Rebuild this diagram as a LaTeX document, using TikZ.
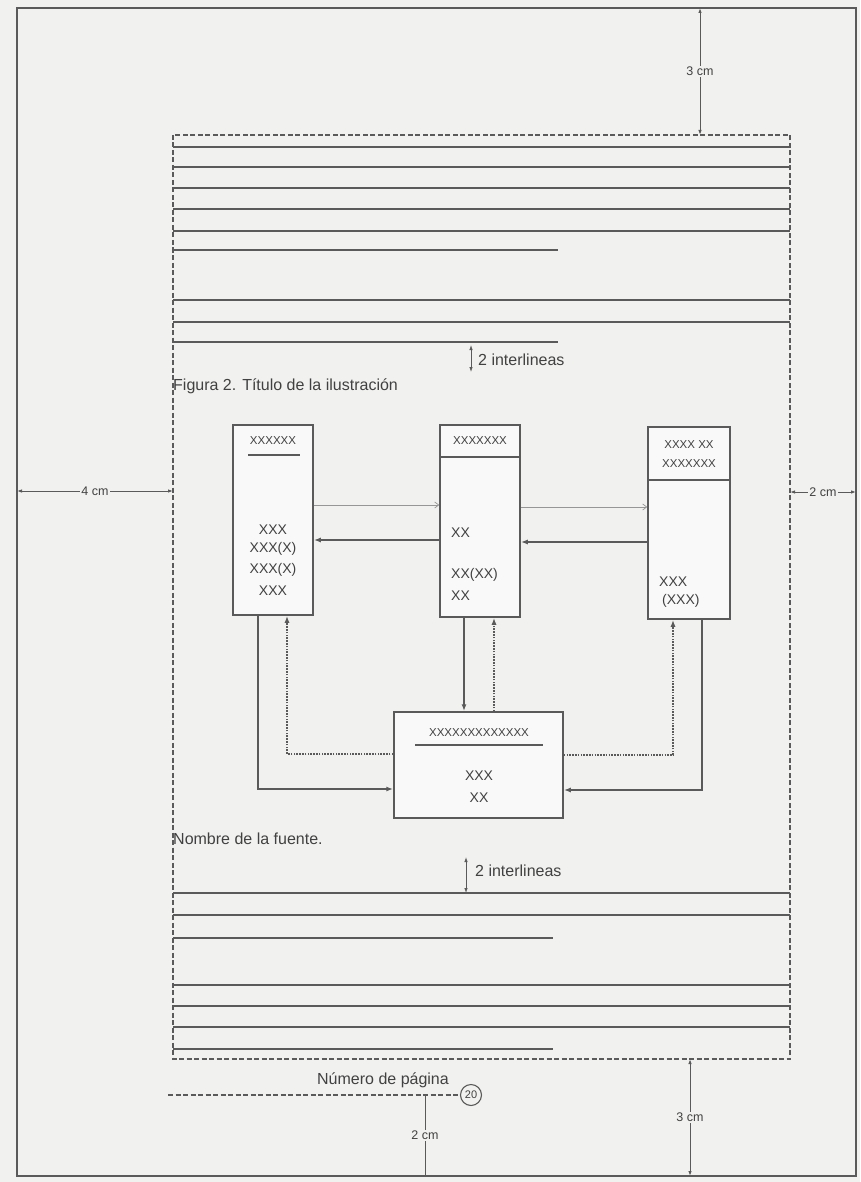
\documentclass[tikz,border=0pt]{standalone}
\usepackage{fontspec}
\setmainfont{Liberation Sans}
\usetikzlibrary{arrows.meta}
\definecolor{bg}{RGB}{241,241,239}
\definecolor{ink}{RGB}{90,90,90}
\definecolor{inkl}{RGB}{150,150,150}
\definecolor{txt}{RGB}{65,65,65}
\begin{document}
\begin{tikzpicture}[x=1pt,y=-1pt,
  txtline/.style={draw=ink,line width=1.1pt},
  border/.style={draw=ink,line width=1.1pt,dash pattern=on 5pt off 2.5pt},
  pageedge/.style={draw=ink,line width=1.6pt},
  boxnode/.style={draw=ink,line width=1.5pt,fill=white!60!bg,inner sep=0pt},
  solidarr/.style={draw=ink,line width=1.4pt,-{Latex[length=7pt,width=5pt]}},
  dotarr/.style={draw=ink,line width=1.4pt,dash pattern=on 1.6pt off 1.2pt,-{Latex[length=7pt,width=5pt]}},
  thinarr/.style={draw=inkl,line width=0.7pt,-{Straight Barb[length=4pt,width=6pt]}},
  dimline/.style={draw=ink,line width=1pt,{Latex[length=5pt,width=3.5pt]}-{Latex[length=5pt,width=3.5pt]}},
  lbl/.style={font=\fontsize{16}{18}\selectfont,text=txt,inner sep=1pt},
  dimlbl/.style={font=\fontsize{12.5}{14}\selectfont,text=txt,fill=bg,inner sep=1.5pt},
  btxt/.style={font=\fontsize{14}{16}\selectfont,text=txt,inner sep=0pt},
  htxt/.style={font=\fontsize{11.5}{13}\selectfont,text=txt,inner sep=0pt},
]
\useasboundingbox (0,0) rectangle (860,1182);
\fill[bg] (0,0) rectangle (860,1182);

% page edge and text area
\coordinate (pTL) at (17,8);
\coordinate (pBR) at (856,1176);
\draw[pageedge] (pTL) rectangle (pBR);
\coordinate (tTL) at (173,135);
\coordinate (tBR) at (790,1059);
\draw[border] (tTL) rectangle (tBR);

% text lines, top block
\foreach \yy in {147,167,188,209,231,300,322} \draw[txtline] (173,\yy) -- (790,\yy);
\foreach \yy in {250,342} \draw[txtline] (173,\yy) -- (558,\yy);
% text lines, bottom block
\foreach \yy in {893,915,985,1006,1027} \draw[txtline] (173,\yy) -- (790,\yy);
\foreach \yy in {938,1049} \draw[txtline] (173,\yy) -- (553,\yy);

% margin dimensions
\coordinate (m3a) at (700,8);
\coordinate (m3b) at (700,135);
\draw[dimline] (m3a) -- node[dimlbl]{3 cm} (m3b);
\coordinate (m4a) at (17,491);
\coordinate (m4b) at (173,491);
\draw[dimline] (m4a) -- node[dimlbl]{4 cm} (m4b);
\coordinate (m2a) at (790,492);
\coordinate (m2b) at (856,492);
\draw[dimline] (m2a) -- node[dimlbl]{2 cm} (m2b);

% 2 interlineas (top)
\coordinate (i1a) at (471,345);
\coordinate (i1b) at (471,372);
\draw[dimline,line width=0.8pt] (i1a) -- (i1b);
\node[lbl,anchor=west] (i1) at (477,360) {2 interlineas};
\node[lbl,anchor=west] (fig) at (172,386) {Figura 2. Título de la ilustración};

% boxes
\node[boxnode,minimum width=80pt,minimum height=190pt] (A) at (273,520) {};
\node[boxnode,minimum width=80pt,minimum height=192pt] (B) at (480,521) {};
\node[boxnode,minimum width=82pt,minimum height=192pt] (C) at (689,523) {};
\node[boxnode,minimum width=169pt,minimum height=106pt] (D) at (478.5,765) {};

% box A contents
\node[htxt] (Ah) at (273,441) {XXXXXX};
\draw[txtline] (248,455) -- (300,455);
\node[btxt] (A1) at (273,530) {XXX};
\node[btxt] (A2) at (273,549) {XXX(X)};
\node[btxt] (A3) at (273,570) {XXX(X)};
\node[btxt] (A4) at (273,591) {XXX};
% box B contents
\node[htxt] (Bh) at (480,441) {XXXXXXX};
\draw[txtline] (B.west |- 0,457) -- (B.east |- 0,457);
\node[btxt,anchor=west] (B1) at (451,533) {XX};
\node[btxt,anchor=west] (B2) at (451,575) {XX(XX)};
\node[btxt,anchor=west] (B3) at (451,596) {XX};
% box C contents
\node[htxt] (Ch1) at (689,445) {XXXX XX};
\node[htxt] (Ch2) at (689,464) {XXXXXXX};
\draw[txtline] (C.west |- 0,480) -- (C.east |- 0,480);
\node[btxt,anchor=west] (C1) at (659,582) {XXX};
\node[btxt,anchor=west] (C2) at (662,601) {(XXX)};
% box D contents
\node[htxt] (Dh) at (479,733) {XXXXXXXXXXXXX};
\draw[txtline] (415,745) -- (543,745);
\node[btxt] (D1) at (479,776) {XXX};
\node[btxt] (D2) at (479,798) {XX};

% connectors between the upper boxes
\draw[thinarr] (A.east |- 0,505) -- (B.west |- 0,505);
\draw[solidarr] (B.west |- 0,540) -- (A.east |- 0,540);
\draw[thinarr] (B.east |- 0,507) -- (C.west |- 0,507);
\draw[solidarr] (C.west |- 0,542) -- (B.east |- 0,542);
% connectors with the lower box
\draw[solidarr] (A.south -| 258,0) |- (D.west |- 0,789);
\draw[dotarr] (D.west |- 0,754) -| (A.south -| 287,0);
\draw[solidarr] (B.south -| 464,0) -- (D.north -| 464,0);
\draw[dotarr] (D.north -| 494,0) -- (B.south -| 494,0);
\draw[dotarr] (D.east |- 0,755) -| (C.south -| 673,0);
\draw[solidarr] (C.south -| 702,0) |- (D.east |- 0,790);

\node[lbl,anchor=west] (src) at (172,839) {Nombre de la fuente.};

% 2 interlineas (bottom)
\coordinate (i2a) at (466,857);
\coordinate (i2b) at (466,893);
\draw[dimline,line width=0.8pt] (i2a) -- (i2b);
\node[lbl,anchor=west] (i2) at (474,871) {2 interlineas};

% page number
\node[draw=ink,line width=1.1pt,circle,minimum size=21pt,inner sep=0pt,font=\fontsize{11}{12}\selectfont,text=txt] (pn) at (471,1095) {20};
\coordinate (pnl) at (168,1095);
\draw[border,line width=1.3pt] (pnl) -- (pn.west);
\node[lbl,anchor=south] (pnt) at (383,1089) {Número de página};
\coordinate (d2a) at (425,1095);
\coordinate (d2b) at (425,1176);
\draw[draw=ink,line width=1pt] (d2a) -- node[dimlbl]{2 cm} (d2b);
\coordinate (d3a) at (690,1059);
\coordinate (d3b) at (690,1176);
\draw[dimline] (d3a) -- node[dimlbl]{3 cm} (d3b);
\end{tikzpicture}
\end{document}
